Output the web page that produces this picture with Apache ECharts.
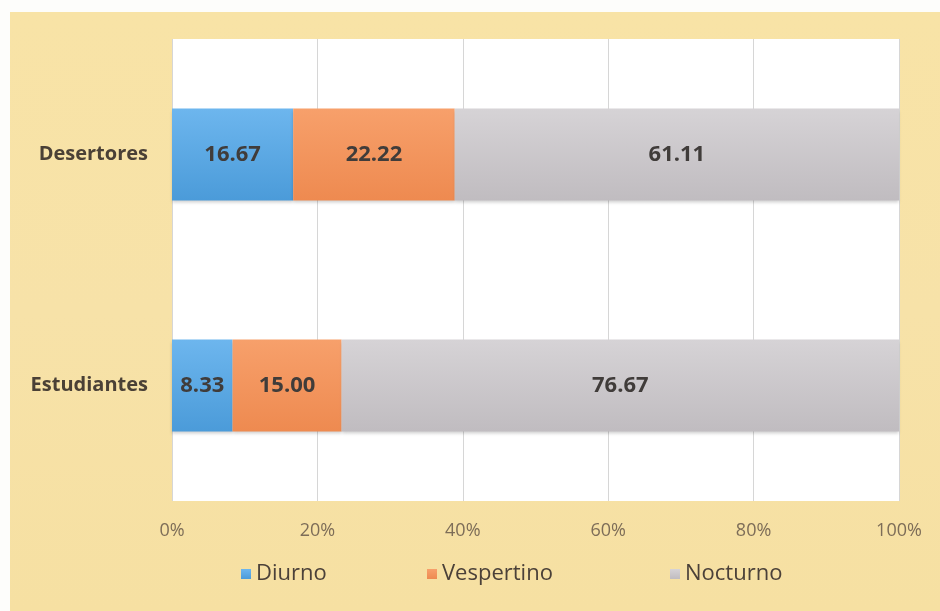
<!DOCTYPE html>
<html>
<head>
<meta charset="utf-8">
<script src="https://cdn.jsdelivr.net/npm/echarts@6/dist/echarts.min.js"></script>
<style>
  html, body { margin: 0; padding: 0; background: #fdfdfb; }
  #paper {
    position: absolute; left: 10px; top: 12px; width: 930px; height: 599px;
    background: linear-gradient(180deg, #f8e3a6 0%, #f7e2a8 50%, #f6e0a2 100%);
  }
  #main { position: absolute; left: 0; top: 0; width: 940px; height: 611px; }
</style>
</head>
<body>
<div id="paper"></div>
<div id="main"></div>
<script>
// categories, bottom to top as echarts draws them
const categories = ['Estudiantes', 'Desertores'];
const diurno = [8.33, 16.67];
const vespertino = [15.00, 22.22];
const nocturno = [76.67, 61.11];
const xTicks = [0, 20, 40, 60, 80, 100];
const legendNames = ['Diurno', 'Vespertino', 'Nocturno'];

const chart = echarts.init(document.getElementById('main'));

const grad = (top, bottom) => new echarts.graphic.LinearGradient(0, 0, 0, 1, [
  { offset: 0, color: top },
  { offset: 1, color: bottom }
]);

const barLabel = {
  show: true,
  position: 'inside',
  fontFamily: 'Open Sans',
  fontWeight: 'bold',
  fontSize: 22,
  color: '#403c3a',
  formatter: p => p.value.toFixed(2)
};

const mkSeries = (name, data, top, bottom) => ({
  name,
  type: 'bar',
  stack: 'total',
  barWidth: 92,
  data,
  label: barLabel,
  itemStyle: {
    color: grad(top, bottom),
    shadowColor: 'rgba(0,0,0,0.18)',
    shadowBlur: 3,
    shadowOffsetY: 2
  },
  emphasis: { disabled: true }
});

// one legend box per item, so the uneven spacing of the original can be kept
const legendLefts = [236, 422, 665];
const legends = legendNames.map((n, i) => ({
  left: legendLefts[i],
  top: 558,
  itemWidth: 10,
  itemHeight: 10,
  icon: 'rect',
  textStyle: { fontSize: 22, color: '#4b4139', fontFamily: 'Open Sans' },
  data: [n]
}));

chart.setOption({
  animation: false,
  textStyle: { fontFamily: 'Open Sans' },
  grid: {
    left: 172, right: 41, top: 39, bottom: 110,
    show: true, backgroundColor: '#ffffff', borderWidth: 0
  },
  legend: legends,
  xAxis: {
    type: 'value',
    min: xTicks[0],
    max: xTicks[xTicks.length - 1],
    interval: 20,
    axisLine: { show: false },
    axisTick: { show: false },
    splitLine: { lineStyle: { color: '#d6d6d6', width: 1 } },
    axisLabel: {
      formatter: '{value}%',
      fontSize: 18,
      color: '#7d6d58',
      margin: 21
    }
  },
  yAxis: {
    type: 'category',
    data: categories,
    axisLine: { show: false },
    axisTick: { show: false },
    axisLabel: {
      fontSize: 20,
      fontWeight: 'bold',
      color: '#4a4036',
      margin: 24
    }
  },
  series: [
    mkSeries('Diurno', diurno, '#6db6ee', '#4b9bd9'),
    mkSeries('Vespertino', vespertino, '#f7a06b', '#ee8a50'),
    mkSeries('Nocturno', nocturno, '#d6d3d6', '#c0bcc0')
  ]
});
</script>
</body>
</html>
